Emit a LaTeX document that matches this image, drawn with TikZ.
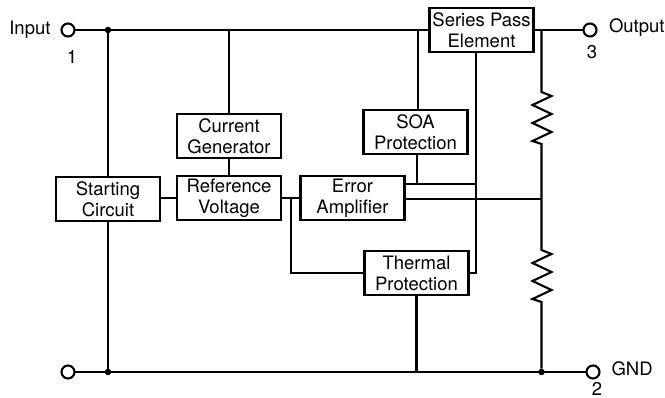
\documentclass[tikz,border=0pt]{standalone}
\usepackage{fontspec}
\setmainfont{TeX Gyre Heros}
\usetikzlibrary{positioning}

\begin{document}
\begin{tikzpicture}[
  x=1pt, y=1pt,
  block/.style={rectangle, draw, line width=2.1pt, fill=white, align=center, minimum width=104pt, minimum height=44pt, inner sep=0pt, outer sep=0pt, font=\fontsize{18.5}{21}\selectfont},
  wire/.style={line width=2.1pt},
  terminal/.style={circle, draw, line width=2.1pt, fill=white, minimum size=13pt, inner sep=0pt, outer sep=0pt},
  junction/.style={circle, fill=black, minimum size=6.5pt, inner sep=0pt, outer sep=0pt},
  pinlabel/.style={inner sep=0pt, outer sep=0pt, font=\fontsize{18.5}{21}\selectfont},
  rzig/.style={wire, line join=miter}
]
\useasboundingbox (0,0) rectangle (665,-398);

\node[block] (reference) at (229,-198) {Reference\\Voltage};
\node[block, left=17pt of reference, yshift=-1pt] (starting) {Starting\\Circuit};
\node[block, above=18pt of reference] (current) {Current\\Generator};
\node[block, right=19.5pt of reference] (error) {Error\\Amplifier};
\node[block, below right=31pt and -40pt of error] (thermal) {Thermal\\Protection};
\node[block, above right=22pt and -41pt of error] (soa) {SOA\\Protection};
\node[block, above right=58pt and -38pt of soa] (series) {Series Pass\\Element};

\node[terminal] (input) at (68,-30) {};
\node[terminal] (output) at (590,-30) {};
\node[terminal] (gnd) at (593,-372) {};
\node[terminal] (ret) at (68,-372) {};

\node[junction] (inputdot) at (108,-30) {};
\node[junction] (gnddot) at (108,-372) {};
\node[junction] (rdot) at (541.5,-372) {};

\coordinate (rtop) at (541.5,-30);
\coordinate (rmid) at (541.5,-199);
\coordinate (tap) at (291,-198);
\coordinate (drive) at (476,-184);
\coordinate (sense) at (476,-199);
\coordinate (r1a) at (541.5,-92);
\coordinate (r2a) at (541.5,-250);

\node[pinlabel, left=11pt of input] (inputlabel) {Input};
\node[pinlabel] (pinone) at (72,-57) {1};
\node[pinlabel, right=12.5pt of output, yshift=2pt] (outputlabel) {Output};
\node[pinlabel] (pinthree) at (592,-52) {3};
\node[pinlabel, right=12pt of gnd, yshift=3pt] (gndlabel) {GND};
\node[pinlabel] (pintwo) at (597,-388.5) {2};

\draw[wire] (input) -- (series.west |- input);
\draw[wire] (series.east |- output) -- (output);
\draw[wire] (ret) -- (gnd);
\draw[wire] (inputdot) -- (starting);
\draw[wire] (starting) -- (gnddot);
\draw[wire] (current.north) -- (current.north |- input);
\draw[wire] (current) -- (reference);
\draw[wire] (reference.west) -- (reference.west -| starting.east);
\draw[wire] (reference) -- (error);
\draw[wire] (tap) |- (thermal.west);
\draw[wire] (soa.north -| 418,0) -- (418,-30);
\draw[wire] (soa.south -| 417,0) -- (417,-184);
\draw[wire] (error.east |- drive) -- (drive);
\draw[wire] (error.east |- sense) -- (rmid);
\draw[wire] (series.south -| drive) |- (thermal.east);
\draw[wire] (thermal) -- (thermal |- ret);

\draw[rzig] (rtop) -- (r1a) -- ++(10,-4) -- ++(-19,-9) -- ++(19,-9) -- ++(-19,-9) -- ++(19,-9) -- ++(-19,-9) -- ++(9,-3) -- (rmid);
\draw[rzig] (rmid) -- (r2a) -- ++(10,-4) -- ++(-19,-9) -- ++(19,-9) -- ++(-19,-9) -- ++(19,-9) -- ++(-19,-9) -- ++(9,-3) -- (rdot);
\end{tikzpicture}
\end{document}
